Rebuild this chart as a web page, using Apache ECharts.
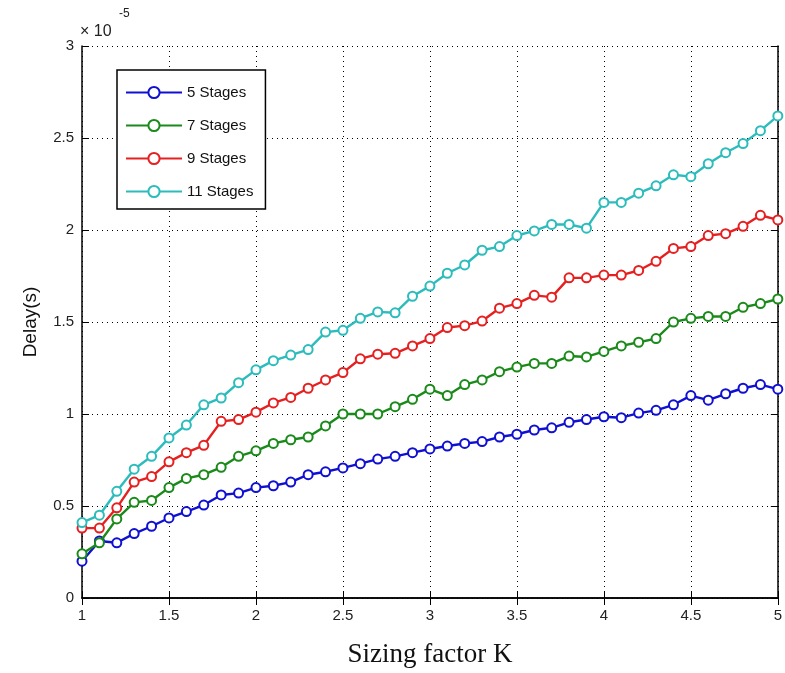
<!DOCTYPE html>
<html>
<head>
<meta charset="utf-8">
<script src="https://cdn.jsdelivr.net/npm/echarts@6/dist/echarts.min.js"></script>
<style>html,body{margin:0;padding:0;background:#fff;}#c{width:785px;height:673px;}</style>
</head>
<body>
<div id="c"></div>
<script>
var K = [1.0,1.1,1.2,1.3,1.4,1.5,1.6,1.7,1.8,1.9,2.0,2.1,2.2,2.3,2.4,2.5,2.6,2.7,2.8,2.9,3.0,3.1,3.2,3.3,3.4,3.5,3.6,3.7,3.8,3.9,4.0,4.1,4.2,4.3,4.4,4.5,4.6,4.7,4.8,4.9,5.0];
var seriesNames = ['5 Stages','7 Stages','9 Stages','11 Stages'];
var stages5 = [0.20,0.31,0.30,0.35,0.39,0.435,0.47,0.505,0.56,0.57,0.60,0.61,0.63,0.67,0.686,0.707,0.73,0.755,0.77,0.79,0.81,0.826,0.84,0.85,0.875,0.89,0.913,0.925,0.955,0.97,0.985,0.98,1.005,1.02,1.05,1.10,1.075,1.11,1.14,1.16,1.135];
var stages7 = [0.24,0.30,0.43,0.52,0.53,0.60,0.65,0.67,0.71,0.77,0.80,0.84,0.86,0.875,0.935,1.0,1.0,1.0,1.04,1.08,1.135,1.10,1.16,1.185,1.23,1.255,1.275,1.275,1.315,1.31,1.34,1.37,1.39,1.41,1.50,1.52,1.53,1.53,1.58,1.60,1.625];
var stages9 = [0.38,0.38,0.49,0.63,0.66,0.74,0.79,0.83,0.96,0.97,1.01,1.06,1.09,1.14,1.185,1.225,1.30,1.325,1.33,1.37,1.41,1.47,1.48,1.505,1.575,1.60,1.645,1.635,1.74,1.74,1.755,1.755,1.78,1.83,1.90,1.91,1.97,1.98,2.02,2.08,2.055];
var stages11 = [0.41,0.45,0.58,0.70,0.77,0.87,0.94,1.05,1.087,1.17,1.24,1.29,1.32,1.35,1.445,1.455,1.52,1.555,1.55,1.64,1.695,1.765,1.81,1.89,1.91,1.97,1.995,2.03,2.03,2.01,2.15,2.15,2.20,2.24,2.30,2.29,2.36,2.42,2.47,2.54,2.62];
var colors = ['#1010d2','#1a8a1a','#e62020','#2cbcbc'];

function pairs(ys){ return K.map(function(k,i){ return [k, ys[i]]; }); }
var allY = [stages5, stages7, stages9, stages11];

var chart = echarts.init(document.getElementById('c'), null, {renderer:'canvas'});
var labelFont = {fontFamily:'Liberation Sans, Arial, sans-serif', fontSize:15, color:'#222'};
var gridLine = {show:true, lineStyle:{color:'#000', type:[1,4], width:1}};
var option = {
  animation:false,
  backgroundColor:'#fff',
  grid:{left:82, right:4, top:46, bottom:75, containLabel:false},
  legend:{
    data:seriesNames, orient:'vertical', left:117, top:70,
    padding:[15,12,10,8], itemGap:18, itemWidth:56, itemHeight:14,
    borderColor:'#000', borderWidth:1.5, backgroundColor:'#fff',
    textStyle:{fontFamily:'Liberation Sans, Arial, sans-serif', fontSize:15, color:'#111'}
  },
  xAxis:[{
    type:'value', min:1, max:5, interval:0.5, position:'bottom',
    name:'Sizing factor K', nameLocation:'middle', nameGap:43,
    nameTextStyle:{fontFamily:'Liberation Serif, Times New Roman, serif', fontSize:27, color:'#111'},
    axisLine:{show:true, lineStyle:{color:'#000', width:1.5}},
    axisTick:{show:true, inside:true, length:7, lineStyle:{color:'#000'}},
    axisLabel:Object.assign({margin:10}, labelFont),
    splitLine:gridLine
  },{
    type:'value', min:1, max:5, interval:0.5, position:'top',
    axisLine:{show:true, lineStyle:{color:'#000', width:1.5}},
    axisTick:{show:true, inside:true, length:7, lineStyle:{color:'#000'}},
    axisLabel:{show:false}, splitLine:{show:false}
  }],
  yAxis:[{
    type:'value', min:0, max:3, interval:0.5, position:'left',
    name:'Delay(s)', nameLocation:'middle', nameGap:42, nameRotate:90,
    nameTextStyle:{fontFamily:'Liberation Sans, Arial, sans-serif', fontSize:19, color:'#111'},
    axisLine:{show:true, lineStyle:{color:'#000', width:1.5}},
    axisTick:{show:true, inside:true, length:7, lineStyle:{color:'#000'}},
    axisLabel:Object.assign({margin:8}, labelFont),
    splitLine:gridLine
  },{
    type:'value', min:0, max:3, interval:0.5, position:'right',
    axisLine:{show:true, lineStyle:{color:'#000', width:1.5}},
    axisTick:{show:true, inside:true, length:7, lineStyle:{color:'#000'}},
    axisLabel:{show:false}, splitLine:{show:false}
  }],
  graphic:[
    {type:'text', left:80, top:24, style:{text:'× 10', fontFamily:'Liberation Sans, Arial, sans-serif', fontSize:16, fill:'#222'}},
    {type:'text', left:119, top:8, style:{text:'-5', fontFamily:'Liberation Sans, Arial, sans-serif', fontSize:12, fill:'#222'}}
  ],
  series: seriesNames.map(function(n,i){
    return {
      name:n, type:'line', xAxisIndex:0, yAxisIndex:0,
      data:pairs(allY[i]),
      symbol:'emptyCircle', symbolSize:9, showAllSymbol:true,
      lineStyle:{color:colors[i], width:2.4},
      itemStyle:{color:colors[i], borderColor:colors[i], borderWidth:2},
      z:2+i
    };
  })
};
chart.setOption(option);
</script>
</body>
</html>
